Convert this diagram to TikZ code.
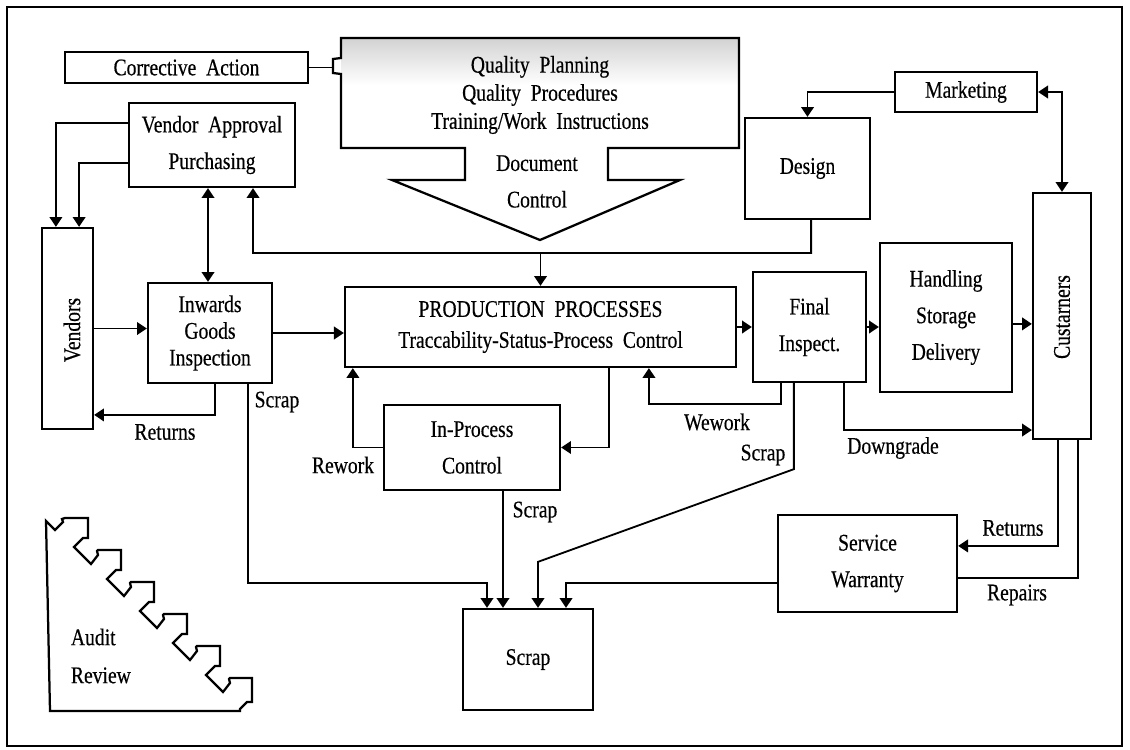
\documentclass[tikz,border=0pt]{standalone}
\usepackage{fontspec}
\setmainfont{Liberation Serif}[FakeStretch=0.82,FakeBold=0.4]
\usetikzlibrary{arrows.meta}

\begin{document}
\begin{tikzpicture}[x=0.025cm,y=-0.025cm,
  box/.style={draw,line width=1.6pt,align=center,inner sep=2pt,font=\fontsize{17}{26}\selectfont},
  arr/.style={line width=1.3pt,-{Triangle[length=7pt,width=9pt]}},
  twoarr/.style={line width=1.3pt,{Triangle[length=7pt,width=9pt]}-{Triangle[length=7pt,width=9pt]}},
  lbl/.style={font=\fontsize{17}{18}\selectfont,inner sep=1pt}]
\useasboundingbox (0,0) rectangle (1130,749);
\draw[line width=1.8pt] (7,7) rectangle (1122,746);

% quality system block
\shade[top color=gray!35,bottom color=white] (341,38) rectangle (739,85);
\draw[line width=1.6pt] (341,38) -- (739,38) -- (739,148) -- (608,148) -- (608,180) -- (680,180)
  -- (540,240) -- (392,180) -- (465,180) -- (465,148) -- (341,148) -- (341,74) -- (333,73)
  -- (333,59) -- (341,58) -- cycle;
\coordinate (qpnotch) at (333,67.5);
\node[align=center,font=\fontsize{17}{20}\selectfont] (qptxt) at (540,95)
  {Quality\ \ Planning\\Quality\ \ Procedures\\Training/Work\ \ Instructions};
\node[align=center,font=\fontsize{17}{26}\selectfont] (qpdoc) at (537,181.5) {Document\\Control};

% boxes
\node[box,minimum width=6.075cm,minimum height=0.775cm] (ca) at (186.5,67.5) {Corrective\ \ Action};
\node[box,minimum width=4.15cm,minimum height=2.1cm] (va) at (212,145) {Vendor\ \ Approval\\Purchasing};
\node[box,minimum width=1.275cm,minimum height=5.025cm] (vend) at (67.5,328.5) {};
\node[rotate=90,font=\fontsize{17}{18}\selectfont] (vendtxt) at (72,330) {Vendors};
\node[box,minimum width=3.1cm,minimum height=2.5cm,font=\fontsize{17}{19}\selectfont] (inw) at (210,333) {Inwards\\Goods\\Inspection};
\node[box,minimum width=9.775cm,minimum height=2cm,font=\fontsize{17}{22}\selectfont] (prod) at (540.5,327)
  {PRODUCTION\ \ PROCESSES\\Traccability-Status-Process\ \ Control};
\node[box,minimum width=4.4cm,minimum height=2.125cm] (inpc) at (472,447.5) {In-Process\\Control};
\node[box,minimum width=3.25cm,minimum height=2.525cm] (scrap) at (528,659.5) {Scrap};
\node[box,minimum width=2.825cm,minimum height=2.75cm] (fin) at (809.5,327) {Final\\Inspect.};
\node[box,minimum width=3.3cm,minimum height=3.725cm] (hsd) at (946,317.5) {Handling\\Storage\\Delivery};
\node[box,minimum width=1.45cm,minimum height=6.15cm] (cust) at (1062,316) {};
\node[rotate=90,font=\fontsize{17}{18}\selectfont] (custtxt) at (1062,317) {Custarners};
\node[box,minimum width=3.55cm,minimum height=1cm] (mkt) at (966,92) {Marketing};
\node[box,minimum width=3.125cm,minimum height=2.525cm] (des) at (807.5,168.5) {Design};
\node[box,minimum width=4.475cm,minimum height=2.425cm] (sw) at (867.5,563.5) {Service\\Warranty};

% connectors
\draw[line width=1.3pt] (ca.east) -- (qpnotch);
\draw[arr] ([yshift=0.55cm]va.west) -| ([xshift=-0.29cm]vend.north);
\draw[arr] ([yshift=-0.45cm]va.west) -| ([xshift=0.29cm]vend.north);
\draw[twoarr] ([xshift=-0.1cm]va.south) -- ([xshift=-0.05cm]inw.north);
\coordinate (bus) at (253,253);
\draw[arr] ([xshift=0.09cm]des.south) |- (bus) -- ([xshift=1.025cm]va.south);
\draw[arr] (prod.north |- bus) -- (prod.north);
\draw[arr] (vend.east) -- (vend.east -| inw.west);
\draw[arr] (inw.east) -- (inw.east -| prod.west);
\draw[arr] ([xshift=0.125cm]inw.south) |- ([yshift=-2.16cm]vend.east);
\draw[arr] ([xshift=0.95cm]inw.south) |- ([xshift=-1.025cm,yshift=0.625cm]scrap.north)
  -- ([xshift=-1.025cm]scrap.north);
\draw[arr] (inpc.west) -| ([xshift=-4.69cm]prod.south);
\draw[arr] ([xshift=1.71cm]prod.south) |- (inpc.east);
\draw[arr] ([xshift=0.775cm]inpc.south) -- ([xshift=-0.625cm]scrap.north);
\draw[arr] (prod.east) -- (prod.east -| fin.west);
\draw[arr] (fin.east) -- (fin.east -| hsd.west);
\draw[arr] ([yshift=-0.16cm]hsd.east) -- ([yshift=-0.16cm]hsd.east -| cust.west);
\draw[arr] ([xshift=-0.71cm]fin.south) |- ([xshift=2.71cm,yshift=-0.9cm]prod.south)
  -- ([xshift=2.71cm]prod.south);
\draw[arr] ([xshift=-0.39cm]fin.south) -- ++(0,86) -- ([xshift=0.25cm,yshift=1.15cm]scrap.north)
  -- ([xshift=0.25cm]scrap.north);
\draw[arr] ([xshift=0.86cm]fin.south) |- ([yshift=-2.85cm]cust.west);
\draw[arr] (mkt.west) -| (des.north);
\draw[twoarr] (mkt.east) -| (cust.north);
\draw[arr] ([xshift=-0.1cm]cust.south) |- ([yshift=0.44cm]sw.east);
\draw[line width=1.3pt] ([xshift=0.4cm]cust.south) |- ([yshift=-0.36cm]sw.east);
\draw[arr] ([yshift=-0.49cm]sw.west) -| ([xshift=0.95cm]scrap.north);

% connector labels
\node[lbl] (lret) at (165,432) {Returns};
\node[lbl] (lscr1) at (277,402) {Scrap};
\node[lbl] (lrew) at (343,465) {Rework};
\node[lbl] (lscr2) at (535,512) {Scrap};
\node[lbl] (lwew) at (717,422) {Wework};
\node[lbl] (lscr3) at (763,455) {Scrap};
\node[lbl] (ldown) at (893,448) {Downgrade};
\node[lbl] (lret2) at (1013,528) {Returns};
\node[lbl] (lrep) at (1017,595) {Repairs};

% audit review
\draw[line width=1.6pt] (46,521) -- (55,530) -- (63,522) -- (62,519) -- (65,518)
  \foreach \k in {0,...,4} { -- ++(23,0) -- ++(0,20) -- ++(-5,0) -- ++(-9,9) -- ++(17,17)
  -- ++(7,-9) -- ++(-1,-4) -- ++(1,-1) }
  -- ++(22,0) -- ++(0,24) -- ++(-5,0) -- ++(-7,7) -- (240,711) -- (50,711) -- cycle;
\node[align=left,anchor=west,font=\fontsize{17}{27}\selectfont] (aud) at (66,656) {Audit\\Review};
\end{tikzpicture}
\end{document}
